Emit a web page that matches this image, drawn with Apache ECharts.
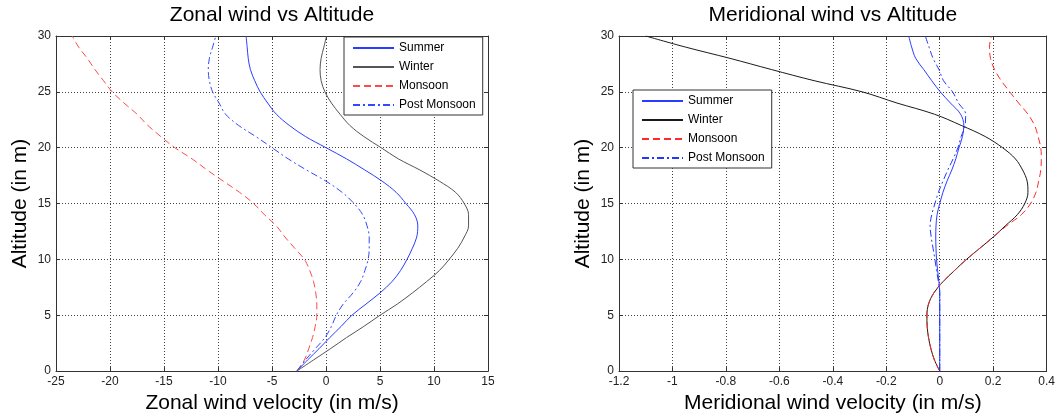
<!DOCTYPE html>
<html><head><meta charset="utf-8">
<script src="https://cdn.jsdelivr.net/npm/echarts@6/dist/echarts.min.js"></script>
<style>html,body{margin:0;padding:0;background:#fff}#c{width:1058px;height:419px}</style>
</head><body><div id="c"></div>
<script>
// Altitude samples (in m)
const altitude = [0,1,2,3,4,5,6,7,8,9,10,11,12,13,14,15,16,17,18,19,20,21,22,23,24,25,26,27,28,29,30];

// Zonal wind velocity (m/s) at each altitude
const zonalSummer = [-2.7,-1.7,-0.65,0.35,1.4,2.4,3.7,5.0,6.1,6.9,7.5,8.0,8.4,8.5,8.2,7.4,6.5,5.2,3.6,1.9,0,-1.9,-3.4,-4.6,-5.4,-6.1,-6.6,-7.0,-7.2,-7.3,-7.4];
const zonalWinter = [-2.7,-1.15,0.4,1.9,3.5,5.0,6.6,8.0,9.3,10.5,11.4,12.2,12.8,13.2,13.2,12.8,12.0,10.5,8.7,6.7,5.1,3.5,2.2,1.3,0.5,-0.1,-0.45,-0.55,-0.45,-0.2,0.05];
const zonalMonsoon = [-2.7,-2.0,-1.6,-1.25,-1.0,-0.85,-0.85,-0.95,-1.15,-1.5,-2.0,-2.9,-3.8,-4.6,-5.7,-6.7,-8.0,-9.5,-11.0,-12.4,-14.0,-15.3,-16.5,-17.5,-18.7,-19.8,-20.6,-21.4,-22.1,-22.9,-23.5];
const zonalPostMonsoon = [-2.7,-1.9,-1.0,-0.1,0.5,0.95,1.6,2.5,3.2,3.6,3.9,4.0,4.0,3.8,3.4,2.6,1.5,0,-1.8,-3.5,-5.0,-6.5,-8.1,-9.3,-9.9,-10.5,-10.8,-10.9,-10.8,-10.5,-10.2];

// Meridional wind velocity (m/s) at each altitude
const meridSummer = [0,0,0,0,0,0,0,0,-0.003,-0.008,-0.012,-0.014,-0.015,-0.014,-0.01,0,0.012,0.027,0.045,0.06,0.072,0.085,0.09,0.078,0.04,0.002,-0.03,-0.06,-0.09,-0.105,-0.116];
const meridWinter = [0,-0.02,-0.033,-0.042,-0.047,-0.048,-0.042,-0.022,0.012,0.055,0.1,0.15,0.2,0.245,0.29,0.318,0.33,0.327,0.31,0.283,0.235,0.17,0.08,-0.02,-0.16,-0.29,-0.47,-0.63,-0.785,-0.95,-1.1];
const meridMonsoon = [0,-0.02,-0.033,-0.042,-0.047,-0.048,-0.042,-0.022,0.012,0.055,0.1,0.15,0.2,0.25,0.305,0.34,0.36,0.37,0.378,0.38,0.378,0.368,0.355,0.33,0.295,0.262,0.23,0.205,0.19,0.186,0.193];
const meridPostMonsoon = [0,0,0,0,0,0,0,0,-0.005,-0.012,-0.018,-0.025,-0.032,-0.036,-0.03,-0.018,-0.005,0.012,0.03,0.05,0.068,0.08,0.095,0.097,0.07,0.048,0.014,-0.003,-0.025,-0.04,-0.054];

const seriesNames = ['Summer','Winter','Monsoon','Post Monsoon'];
const leftTitle = 'Zonal wind vs Altitude';
const rightTitle = 'Meridional wind vs Altitude';
const leftXName = 'Zonal wind velocity (in m/s)';
const rightXName = 'Meridional wind velocity (in m/s)';
const yName = 'Altitude (in m)';

const FONT = "'Liberation Sans', Arial, Helvetica, sans-serif";
const pairs = vals => vals.map((v, i) => [v, altitude[i]]);

function xAxes(grid, min, max, interval, name, title) {
  return [{
    type: 'value', gridIndex: grid, min, max, interval, position: 'bottom',
    name, nameLocation: 'middle', nameGap: 21,
    nameTextStyle: {fontSize: 21, color: '#000', fontFamily: FONT},
    axisLine: {show: true, onZero: false, lineStyle: {color: '#333', width: 1}},
    axisTick: {show: true, inside: true, length: 4, lineStyle: {color: '#333'}},
    axisLabel: {show: true, fontSize: 12, color: '#222', margin: 5, fontFamily: FONT},
    splitLine: {show: true, lineStyle: {color: '#444', type: [1, 2], width: 1}}
  }, {
    type: 'value', gridIndex: grid, min, max, interval, position: 'top',
    name: title, nameLocation: 'middle', nameGap: 10,
    nameTextStyle: {fontSize: 21, color: '#000', fontFamily: FONT},
    axisLine: {show: true, onZero: false, lineStyle: {color: '#333', width: 1}},
    axisTick: {show: true, inside: true, length: 4, lineStyle: {color: '#333'}},
    axisLabel: {show: false}, splitLine: {show: false}
  }];
}
function yAxes(grid) {
  return [{
    type: 'value', gridIndex: grid, min: 0, max: 30, interval: 5, position: 'left',
    name: yName, nameLocation: 'middle', nameGap: 25,
    nameTextStyle: {fontSize: 21, color: '#000', fontFamily: FONT},
    axisLine: {show: true, onZero: false, lineStyle: {color: '#333', width: 1}},
    axisTick: {show: true, inside: true, length: 4, lineStyle: {color: '#333'}},
    axisLabel: {show: true, fontSize: 12, color: '#222', margin: 5, fontFamily: FONT},
    splitLine: {show: true, lineStyle: {color: '#444', type: [1, 2], width: 1}}
  }, {
    type: 'value', gridIndex: grid, min: 0, max: 30, interval: 5, position: 'right',
    axisLine: {show: true, onZero: false, lineStyle: {color: '#333', width: 1}},
    axisTick: {show: true, inside: true, length: 4, lineStyle: {color: '#333'}},
    axisLabel: {show: false}, splitLine: {show: false}
  }];
}
function line(name, data, xi, yi, color, type) {
  return {
    type: 'line', name, data: pairs(data), xAxisIndex: xi, yAxisIndex: yi,
    symbol: 'none', smooth: 0.35, silent: true, animation: false,
    lineStyle: {color, width: 1, type}, itemStyle: {color}
  };
}
function legend(left, top, names) {
  return {
    orient: 'vertical', left, top, padding: [5, 7, 4, 8],
    itemWidth: 41, itemHeight: 12, itemGap: 7,
    backgroundColor: '#fff', borderColor: '#333', borderWidth: 1, borderRadius: 0,
    itemStyle: {opacity: 0},
    textStyle: {fontSize: 12, color: '#000', fontFamily: FONT},
    formatter: n => n.trim(),
    data: names, selectedMode: false
  };
}
const dash = [7, 4];
const dashDot = [7, 3, 2, 3];
const rNames = seriesNames.map(n => n + ' ');

const option = {
  animation: false,
  backgroundColor: '#fff',
  textStyle: {fontFamily: FONT},
  grid: [
    {left: 56, top: 35, width: 432, height: 338},
    {left: 619, top: 35, width: 432, height: 338}
  ],
  xAxis: [...xAxes(0, -25, 15, 5, leftXName, leftTitle), ...xAxes(1, -1.2, 0.4, 0.2, rightXName, rightTitle)],
  yAxis: [...yAxes(0), ...yAxes(1)],
  legend: [legend(344, 37, seriesNames), legend(633, 90, rNames)],
  series: [
    line(seriesNames[0], zonalSummer, 0, 0, '#2a3cff', 'solid'),
    line(seriesNames[1], zonalWinter, 0, 0, '#555555', 'solid'),
    line(seriesNames[2], zonalMonsoon, 0, 0, '#ff4a4a', dash),
    line(seriesNames[3], zonalPostMonsoon, 0, 0, '#3348ff', dashDot),
    line(rNames[0], meridSummer, 2, 2, '#2a3cff', 'solid'),
    line(rNames[1], meridWinter, 2, 2, '#1a1a1a', 'solid'),
    line(rNames[2], meridMonsoon, 2, 2, '#ff2a2a', dash),
    line(rNames[3], meridPostMonsoon, 2, 2, '#2238ff', dashDot)
  ]
};
const chart = echarts.init(document.getElementById('c'), null, {renderer: 'canvas'});
chart.setOption(option);
</script>
</body></html>
